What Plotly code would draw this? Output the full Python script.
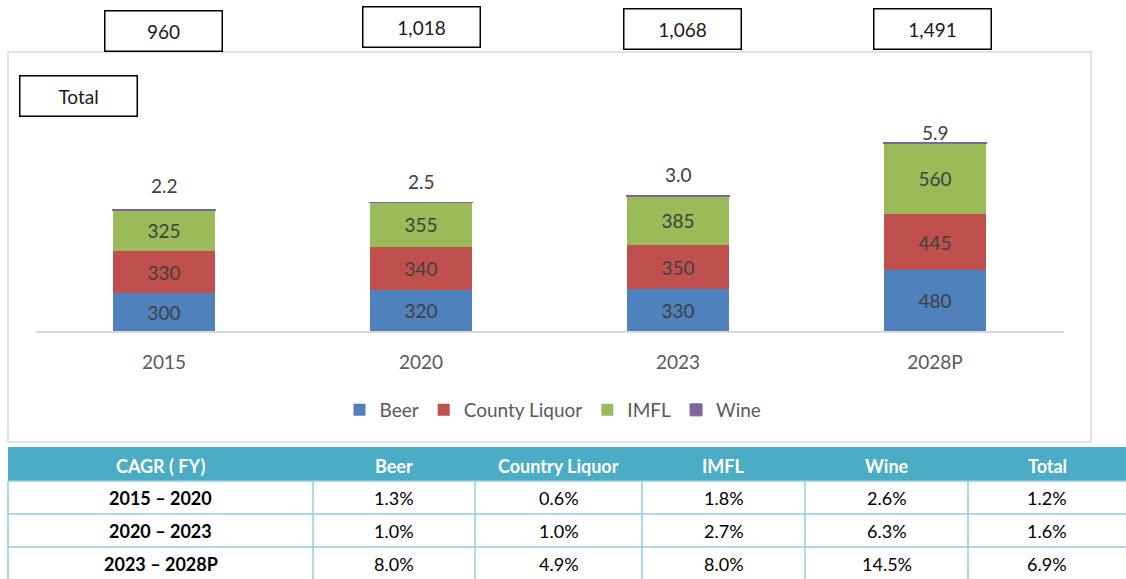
import plotly.graph_objects as go

# ---------------- data ----------------
years = ["2015", "2020", "2023", "2028P"]
beer = [300, 320, 330, 480]
county_liquor = [330, 340, 350, 445]
imfl = [325, 355, 385, 560]
wine = [2.2, 2.5, 3.0, 5.9]
totals = [960, 1018, 1068, 1491]

table_header = ["CAGR ( FY)", "Beer", "Country Liquor", "IMFL", "Wine", "Total"]
cagr_periods = ["2015 – 2020", "2020 – 2023", "2023 – 2028P"]
cagr_beer = ["1.3%", "1.0%", "8.0%"]
cagr_liquor = ["0.6%", "1.0%", "4.9%"]
cagr_imfl = ["1.8%", "2.7%", "8.0%"]
cagr_wine = ["2.6%", "6.3%", "14.5%"]
cagr_total = ["1.2%", "1.6%", "6.9%"]

# ---------------- layout helpers ----------------
W, H = 1126, 579
FONT = "Lato"
FS = 19


def px(x):
    return x / W


def py(y):
    return 1 - y / H


YMAX = 1600
BASE = 331
SCALE = 188 / 1485  # pixels per unit
TOP = BASE - YMAX * SCALE

colors = {"Beer": "#4F81BD", "County Liquor": "#C0504D", "IMFL": "#9BBB59", "Wine": "#8064A2"}

fig = go.Figure()
for name, vals in [("Beer", beer), ("County Liquor", county_liquor), ("IMFL", imfl)]:
    fig.add_trace(go.Bar(
        x=years, y=vals, name=name,
        marker=dict(color=colors[name], line=dict(width=0)),
        text=[str(v) for v in vals], textposition="inside", insidetextanchor="middle",
        textfont=dict(family=FONT, size=FS, color="#404040"),
        constraintext="none", width=0.4, cliponaxis=False,
    ))
fig.add_trace(go.Bar(
    x=years, y=wine, name="Wine",
    marker=dict(color=colors["Wine"], line=dict(width=1, color=colors["Wine"])),
    width=0.4, cliponaxis=False,
))

# wine value labels above stacks
shifts = [24, 21, 21, 10]
for i, yr in enumerate(years):
    top = beer[i] + county_liquor[i] + imfl[i] + wine[i]
    fig.add_annotation(x=i, y=top, xref="x", yref="y", text=f"{wine[i]:.1f}",
                       showarrow=False, yanchor="middle", yshift=shifts[i],
                       font=dict(family=FONT, size=FS, color="#404040"))

# total boxes
box_y = [31, 27, 29, 29]
box_dx = [-1, 0.5, 4, -3]
for i, yr in enumerate(years):
    fig.add_annotation(x=i, y=py(box_y[i]), xref="x", yref="paper", text=f"{totals[i]:,}",
                       showarrow=False, xanchor="center", yanchor="middle", xshift=box_dx[i],
                       width=116, height=39, borderpad=0, bordercolor="#000000",
                       borderwidth=1.5, bgcolor="#FFFFFF",
                       font=dict(family=FONT, size=FS, color="#1A1A1A"))

# "Total" box
fig.add_annotation(x=px(78.5), y=py(96), xref="paper", yref="paper", text="Total",
                   showarrow=False, xanchor="center", yanchor="middle",
                   width=116, height=39, borderpad=0, bordercolor="#000000",
                   borderwidth=1.5, bgcolor="#FFFFFF",
                   font=dict(family=FONT, size=FS, color="#1A1A1A"))

# chart frame
fig.add_shape(type="rect", xref="paper", yref="paper",
              x0=px(8), x1=px(1091), y0=py(442), y1=py(52),
              line=dict(color="#D9D9D9", width=1.5), layer="below")

# ---------------- CAGR table (drawn with shapes + text) ----------------
col_edges = [8, 313, 475, 642, 805, 968, 1126]
row_edges = [447, 481, 514, 547, 580]
TEAL = "#4BACC6"
GRID = "#92CDDC"

# header band
fig.add_shape(type="rect", xref="paper", yref="paper",
              x0=px(col_edges[0]), x1=px(W), y0=py(row_edges[1]), y1=py(row_edges[0]),
              fillcolor=TEAL, line=dict(width=0))
# horizontal grid lines
for r in row_edges[1:]:
    fig.add_shape(type="line", xref="paper", yref="paper",
                  x0=px(col_edges[0]), x1=px(W), y0=py(r), y1=py(r),
                  line=dict(color=GRID, width=1.5))
# vertical grid lines
for c in col_edges[:-1]:
    fig.add_shape(type="line", xref="paper", yref="paper",
                  x0=px(c), x1=px(c), y0=py(row_edges[1]), y1=py(row_edges[-1]),
                  line=dict(color=GRID, width=1.5))

columns = [cagr_periods, cagr_beer, cagr_liquor, cagr_imfl, cagr_wine, cagr_total]
for j, head in enumerate(table_header):
    cx = (col_edges[j] + col_edges[j + 1]) / 2
    fig.add_annotation(x=px(cx), y=py(466), xref="paper", yref="paper",
                       text=f"<b>{head}</b>", showarrow=False,
                       xanchor="center", yanchor="middle",
                       font=dict(family=FONT, size=18, color="#FFFFFF"))
    for k, val in enumerate(columns[j]):
        cy = (row_edges[k + 1] + row_edges[k + 2]) / 2
        txt = f"<b>{val}</b>" if j == 0 else val
        fig.add_annotation(x=px(cx), y=py(cy), xref="paper", yref="paper",
                           text=txt, showarrow=False,
                           xanchor="center", yanchor="middle",
                           font=dict(family=FONT, size=18, color="#000000"))

fig.update_layout(
    width=W, height=H, barmode="stack",
    margin=dict(l=0, r=0, t=0, b=0),
    paper_bgcolor="#FFFFFF", plot_bgcolor="#FFFFFF",
    font=dict(family=FONT, size=FS, color="#595959"),
    xaxis=dict(domain=[px(35.5), px(1063.5)], range=[-0.5, 3.5], type="category",
               showline=True, linecolor="#D9D9D9", linewidth=2,
               ticks="outside", ticklen=13, tickcolor="rgba(0,0,0,0)",
               tickfont=dict(family=FONT, size=FS, color="#595959"),
               showgrid=False, zeroline=False, fixedrange=True),
    yaxis=dict(domain=[py(BASE), py(TOP)], range=[0, YMAX], visible=False,
               showgrid=False, zeroline=False, fixedrange=True),
    showlegend=True,
    legend=dict(orientation="h", x=px(553), xanchor="center", y=py(410), yanchor="middle",
                font=dict(family=FONT, size=FS, color="#595959"), traceorder="normal",
                itemwidth=30, bgcolor="rgba(0,0,0,0)"),
    bargap=0.6,
)

fig.write_html("out.html", config={"displayModeBar": False},
               post_script="document.body.style.margin='0';")
